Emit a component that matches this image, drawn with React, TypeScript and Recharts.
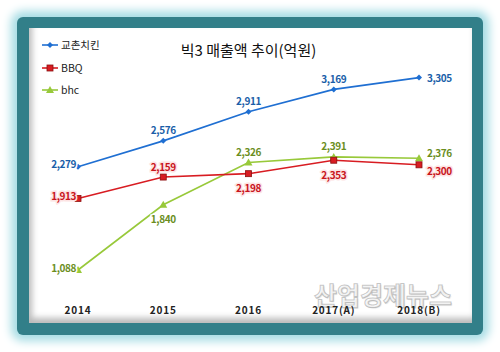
import React from 'react';
import { LineChart, Line, XAxis, YAxis, LabelList } from 'recharts';

const years = ['2014', '2015', '2016', '2017(A)', '2018(B)'];
const kyochon = [2279, 2576, 2911, 3169, 3305];
const bbq = [1913, 2159, 2198, 2353, 2300];
const bhc = [1088, 1840, 2326, 2391, 2376];
const seriesNames = ['교촌치킨', 'BBQ', 'bhc'];
const title = '빅3 매출액 추이(억원)';
const watermark = '산업경제뉴스';

const data = years.map((y, i) => ({ year: y, kyochon: kyochon[i], bbq: bbq[i], bhc: bhc[i] }));

const FONT = '"Noto Sans CJK KR", "Noto Sans", sans-serif';

type Place = 'left' | 'above' | 'below' | 'right';
const kyochonPlace: Place[] = ['left', 'above', 'above', 'above', 'right'];
const bbqPlace: Place[] = ['left', 'above', 'below', 'below', 'right'];
const bhcPlace: Place[] = ['left', 'below', 'above', 'above', 'right'];

const fmt = (v: number) => v.toLocaleString('en-US');

function makeLabel(places: Place[], color: string, rightDy: number, halo: string) {
  return (props: any) => {
    const { x, y, value, index } = props;
    const p = places[index];
    let tx = x, ty = y, anchor: 'start' | 'middle' | 'end' = 'middle';
    if (p === 'left') { tx = x - 2; ty = y - 3; anchor = 'end'; }
    else if (p === 'above') { ty = y - 11; }
    else if (p === 'below') { ty = y + 14; }
    else { tx = x + 8; ty = y + rightDy; anchor = 'start'; }
    return (
      <text x={tx} y={ty} textAnchor={anchor} dominantBaseline="central"
        fill={color} fontSize={10} fontWeight={700} fontFamily={FONT}
        stroke={halo} strokeWidth={3} paintOrder="stroke" letterSpacing={-0.4}>
        {fmt(value)}
      </text>
    );
  };
}

const Diamond = (props: any) => {
  const { cx, cy, fill } = props;
  if (cx == null) return null;
  return <path d={`M${cx},${cy - 3} L${cx + 3},${cy} L${cx},${cy + 3} L${cx - 3},${cy} Z`} fill={fill} />;
};
const Square = (props: any) => {
  const { cx, cy, fill } = props;
  if (cx == null) return null;
  return <rect x={cx - 3} y={cy - 3} width={6} height={6} fill={fill} stroke="#8a1010" strokeWidth={0.8} />;
};
const Triangle = (props: any) => {
  const { cx, cy, fill } = props;
  if (cx == null) return null;
  return <path d={`M${cx},${cy - 4} L${cx + 4},${cy + 3} L${cx - 4},${cy + 3} Z`} fill={fill} />;
};

const colors = {
  kyochon: { line: '#1f6fd2', label: '#1a5ea8' },
  bbq: { line: '#d81c22', label: '#c8141c' },
  bhc: { line: '#98c93a', label: '#6b8e1e' },
};

const legendItems = [
  { name: seriesNames[0], color: colors.kyochon.line, Shape: Diamond },
  { name: seriesNames[1], color: colors.bbq.line, Shape: Square },
  { name: seriesNames[2], color: colors.bhc.line, Shape: Triangle },
];

export default function App() {
  return (
    <div style={{ position: 'absolute', left: 0, top: 0, width: 500, height: 352, background: '#ffffff', overflow: 'hidden' }}>
      <div style={{
        position: 'absolute', left: 17, top: 17, width: 466, height: 318, borderRadius: 6,
        background: '#327f89', boxShadow: '0 0 10px 6px #a6dce4',
      }} />
      <div style={{
        position: 'absolute', left: 29, top: 28, width: 443, height: 295, background: '#ffffff',
        boxShadow: 'inset 3px -5px 6px rgba(0,0,0,0.28)',
      }} />
      <div style={{
        position: 'absolute', left: 0, top: 38, width: 497, textAlign: 'center',
        fontFamily: FONT, fontSize: 15, color: '#111', lineHeight: '24px',
      }}>{title}</div>
      <div style={{
        position: 'absolute', left: 314, top: 278, fontFamily: FONT, fontSize: 25, fontWeight: 700,
        color: 'rgba(255,255,255,0.55)', WebkitTextStroke: '1px rgba(150,150,150,0.55)', lineHeight: '32px', letterSpacing: 0,
        textShadow: '1px 1px 1px rgba(0,0,0,0.12)',
      }}>{watermark}</div>
      <div style={{ position: 'absolute', left: 0, top: 0 }}>
        <LineChart width={500} height={352} data={data} margin={{ top: 52, right: 81, bottom: 27, left: 78 }}>
          <XAxis dataKey="year" axisLine={false} tickLine={false} tickMargin={6} height={30} interval={0}
            tick={{ fontSize: 10, fontWeight: 700, fill: '#222', fontFamily: FONT, letterSpacing: 0.8 } as any} />
          <YAxis hide domain={[800, 3600]} />
          <Line type="linear" dataKey="bhc" stroke={colors.bhc.line} strokeWidth={1.6} isAnimationActive={false}
            dot={<Triangle fill={colors.bhc.line} />} activeDot={false}>
            <LabelList dataKey="bhc" content={makeLabel(bhcPlace, colors.bhc.label, -6, '#ffffff')} />
          </Line>
          <Line type="linear" dataKey="bbq" stroke={colors.bbq.line} strokeWidth={1.6} isAnimationActive={false}
            dot={<Square fill={colors.bbq.line} />} activeDot={false}>
            <LabelList dataKey="bbq" content={makeLabel(bbqPlace, colors.bbq.label, 6, '#fde3e3')} />
          </Line>
          <Line type="linear" dataKey="kyochon" stroke={colors.kyochon.line} strokeWidth={1.6} isAnimationActive={false}
            dot={<Diamond fill={colors.kyochon.line} />} activeDot={false}>
            <LabelList dataKey="kyochon" content={makeLabel(kyochonPlace, colors.kyochon.label, 0, '#ffffff')} />
          </Line>
        </LineChart>
      </div>
      <div style={{ position: 'absolute', left: 41, top: 34 }}>
        {legendItems.map((it) => (
          <div key={it.name} style={{ display: 'flex', alignItems: 'center', height: 22.5 }}>
            <svg width={18} height={10} style={{ marginRight: 2 }}>
              <line x1={1} y1={5} x2={17} y2={5} stroke={it.color} strokeWidth={1.6} />
              <it.Shape cx={9} cy={5} fill={it.color} />
            </svg>
            <span style={{ fontFamily: FONT, fontSize: 10.5, color: '#222', lineHeight: '12px' }}>{it.name}</span>
          </div>
        ))}
      </div>
    </div>
  );
}
